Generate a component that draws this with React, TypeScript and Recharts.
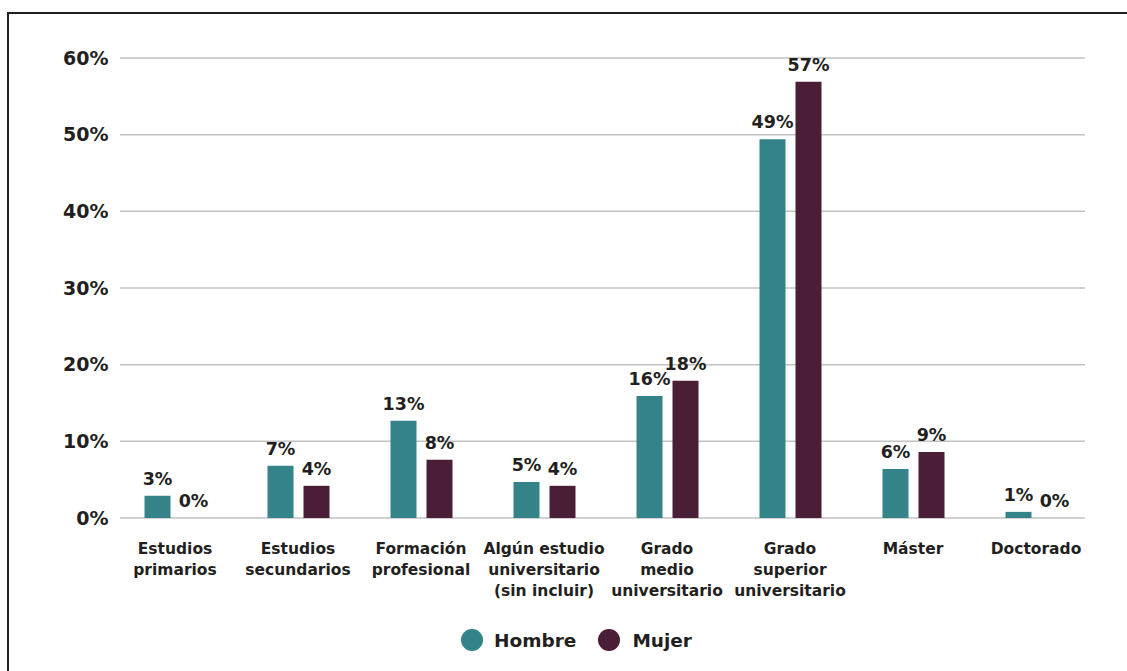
import { Bar, BarChart, CartesianGrid, LabelList, XAxis, YAxis } from "recharts";

const categories = [
  ["Estudios", "primarios"],
  ["Estudios", "secundarios"],
  ["Formación", "profesional"],
  ["Algún estudio", "universitario", "(sin incluir)"],
  ["Grado", "medio", "universitario"],
  ["Grado", "superior", "universitario"],
  ["Máster"],
  ["Doctorado"],
];
const hombre = [2.9, 6.8, 12.7, 4.7, 15.9, 49.4, 6.4, 0.8];
const mujer = [0, 4.2, 7.6, 4.2, 17.9, 56.9, 8.6, 0];
const yTicks = [0, 10, 20, 30, 40, 50, 60];

const TEAL = "#338388";
const PLUM = "#4a1e36";
const INK = "#231f20";
const FONT = "'DejaVu Sans', sans-serif";

const data = categories.map((lines, i) => ({
  name: lines.join(" "),
  hombre: hombre[i],
  mujer: mujer[i],
}));

// multi-line category label
function CategoryTick({ x, y, payload, index }: any) {
  const lines = categories[payload?.index ?? index] ?? [String(payload.value)];
  return (
    <text x={x} y={y} textAnchor="middle" fill={INK} fontSize={15.5} fontWeight={700} fontFamily={FONT}>
      {lines.map((l, k) => (
        <tspan key={k} x={x} dy={k === 0 ? 28 : 21}>
          {l}
        </tspan>
      ))}
    </text>
  );
}

function GridLine(p: any) {
  return <line key={p.key} x1={120} x2={1085} y1={p.y1} y2={p.y2} stroke="#c2c2c2" strokeWidth={1.5} />;
}

const pct = (v: any) => `${Math.round(Number(v))}%`;
// keep zero bars in the layout so their "0%" label is still drawn
const keepZero = (v: any) => (Number(v) === 0 ? 0.01 : 0);

const labelStyle = { fill: INK, fontSize: 17.5, fontWeight: 700, fontFamily: FONT };

export default function App() {
  return (
    <div style={{ position: "absolute", left: 0, top: 0, width: 1127, height: 671, background: "#fff", fontFamily: FONT }}>
      <div
        style={{
          position: "absolute",
          left: 7,
          top: 12,
          right: 0,
          bottom: 0,
          borderLeft: `2px solid ${INK}`,
          borderTop: `2px solid ${INK}`,
        }}
      />
      <div style={{ position: "absolute", left: 0, top: 0 }}>
        <BarChart
          width={1127}
          height={671}
          data={data}
          margin={{ top: 58, right: 29.5, left: 0, bottom: 53 }}
          barSize={26}
          barGap={10}
        >
          <CartesianGrid vertical={false} horizontal={GridLine} />
          <XAxis
            dataKey="name"
            axisLine={false}
            tickLine={false}
            interval={0}
            height={100}
            tick={<CategoryTick />}
          />
          <YAxis
            width={113.5}
            domain={[0, 60]}
            ticks={yTicks}
            axisLine={false}
            tickLine={false}
            tickSize={0}
            tickMargin={5}
            tickFormatter={(v) => `${v}%`}
            tick={{ fill: INK, fontSize: 19, fontWeight: 700, fontFamily: FONT }}
          />
          <Bar dataKey="hombre" fill={TEAL} minPointSize={keepZero} isAnimationActive={false}>
            <LabelList dataKey="hombre" position="top" offset={11} formatter={pct} {...labelStyle} />
          </Bar>
          <Bar dataKey="mujer" fill={PLUM} minPointSize={keepZero} isAnimationActive={false}>
            <LabelList dataKey="mujer" position="top" offset={11} formatter={pct} {...labelStyle} />
          </Bar>
        </BarChart>
      </div>
      <div
        style={{
          position: "absolute",
          top: 629,
          left: 461,
          display: "flex",
          alignItems: "center",
          fontSize: 18.5,
          fontWeight: 700,
          color: INK,
        }}
      >
        <span style={{ width: 22, height: 22, borderRadius: "50%", background: TEAL, display: "inline-block" }} />
        <span style={{ marginLeft: 11 }}>Hombre</span>
        <span style={{ width: 22, height: 22, borderRadius: "50%", background: PLUM, display: "inline-block", marginLeft: 22 }} />
        <span style={{ marginLeft: 12 }}>Mujer</span>
      </div>
    </div>
  );
}
